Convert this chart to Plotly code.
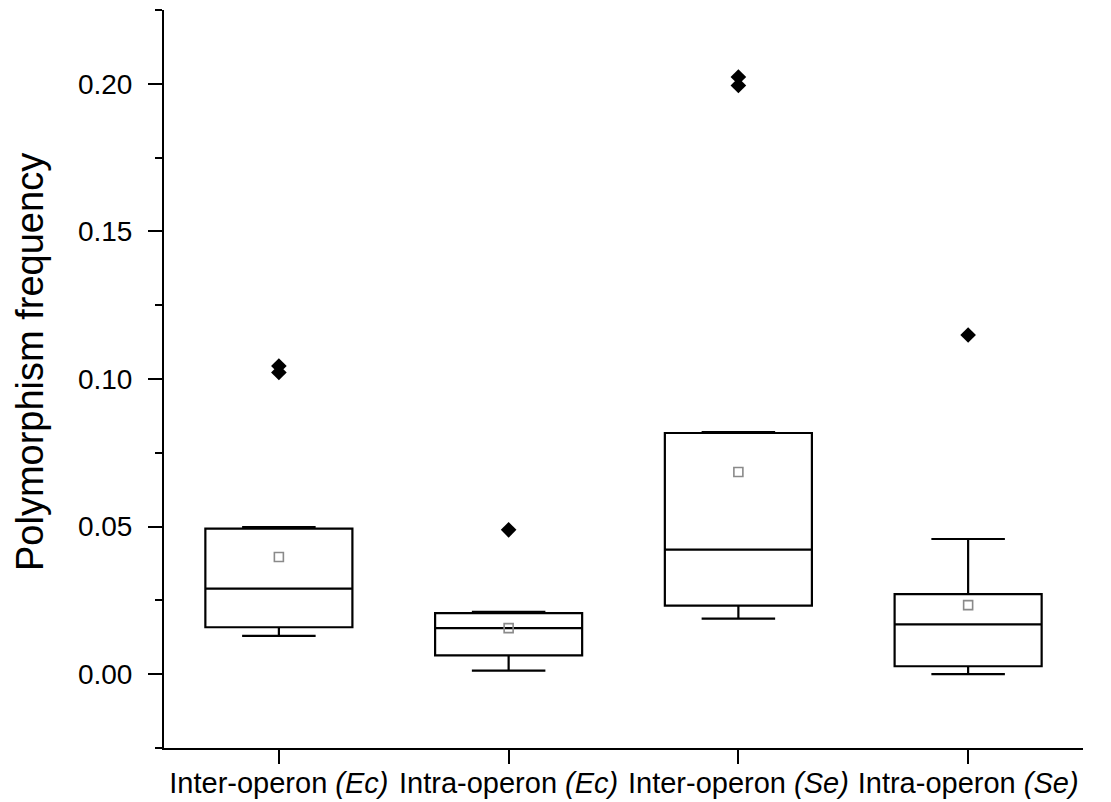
import plotly.graph_objects as go

categories = ["Inter-operon <i>(Ec)</i>", "Intra-operon <i>(Ec)</i>",
              "Inter-operon <i>(Se)</i>", "Intra-operon <i>(Se)</i>"]
q1 = [0.0159, 0.0064, 0.0232, 0.0027]
median = [0.0290, 0.0156, 0.0422, 0.0169]
q3 = [0.0493, 0.0207, 0.0817, 0.0271]
lowerfence = [0.0130, 0.0012, 0.0188, 0.0000]
upperfence = [0.0498, 0.0211, 0.0820, 0.0458]
means = [0.0397, 0.0156, 0.0685, 0.0234]
outlier_x = [categories[0], categories[0], categories[1], categories[2], categories[2], categories[3]]
outlier_y = [0.1044, 0.1022, 0.0489, 0.2023, 0.1994, 0.1149]
y_title = "Polymorphism frequency"

fig = go.Figure()
fig.add_trace(go.Box(
    x=categories, q1=q1, median=median, q3=q3,
    lowerfence=lowerfence, upperfence=upperfence,
    width=0.64, whiskerwidth=0.5, boxpoints=False,
    line=dict(color="black", width=2.2), fillcolor="rgba(255,255,255,0)",
    showlegend=False, hoverinfo="skip"))
fig.add_trace(go.Scatter(
    x=categories, y=means, mode="markers",
    marker=dict(symbol="square-open", size=9, color="#8a8a8a", line=dict(width=1.6)),
    showlegend=False))
fig.add_trace(go.Scatter(
    x=outlier_x, y=outlier_y, mode="markers",
    marker=dict(symbol="diamond", size=12, color="black"),
    showlegend=False))

fig.update_layout(
    width=1111, height=802,
    margin=dict(l=156, r=36, t=2, b=62, autoexpand=False),
    plot_bgcolor="white", paper_bgcolor="white",
    font=dict(family="Liberation Sans, Arial, sans-serif", color="black"),
)
fig.add_annotation(
    text=y_title, textangle=-90, font=dict(size=38),
    xref="paper", yref="paper", x=0, y=0.523, xshift=-134,
    xanchor="center", yanchor="middle", showarrow=False)
fig.update_xaxes(
    type="category", range=[-0.5, 3.5],
    showline=True, linecolor="black", linewidth=2,
    ticks="outside", ticklen=14, tickwidth=2, tickcolor="black",
    tickangle=0, ticklabelstandoff=-6,
    tickfont=dict(family="Liberation Sans, Arial, sans-serif", size=29),
    showgrid=False, zeroline=False)
fig.update_yaxes(
    range=[-0.025, 0.225],
    tickvals=[0.0, 0.05, 0.10, 0.15, 0.20], ticktext=["0.00", "0.05", "0.10", "0.15", "0.20"],
    showline=True, linecolor="black", linewidth=2,
    ticks="outside", ticklen=14, tickwidth=2, tickcolor="black",
    minor=dict(tickvals=[-0.025, 0.025, 0.075, 0.125, 0.175, 0.225], ticks="outside",
               ticklen=7, tickwidth=2, tickcolor="black", showgrid=False),
    ticklabelstandoff=10,
    tickfont=dict(size=28),
    showgrid=False, zeroline=False)

fig.write_html("out.html")
